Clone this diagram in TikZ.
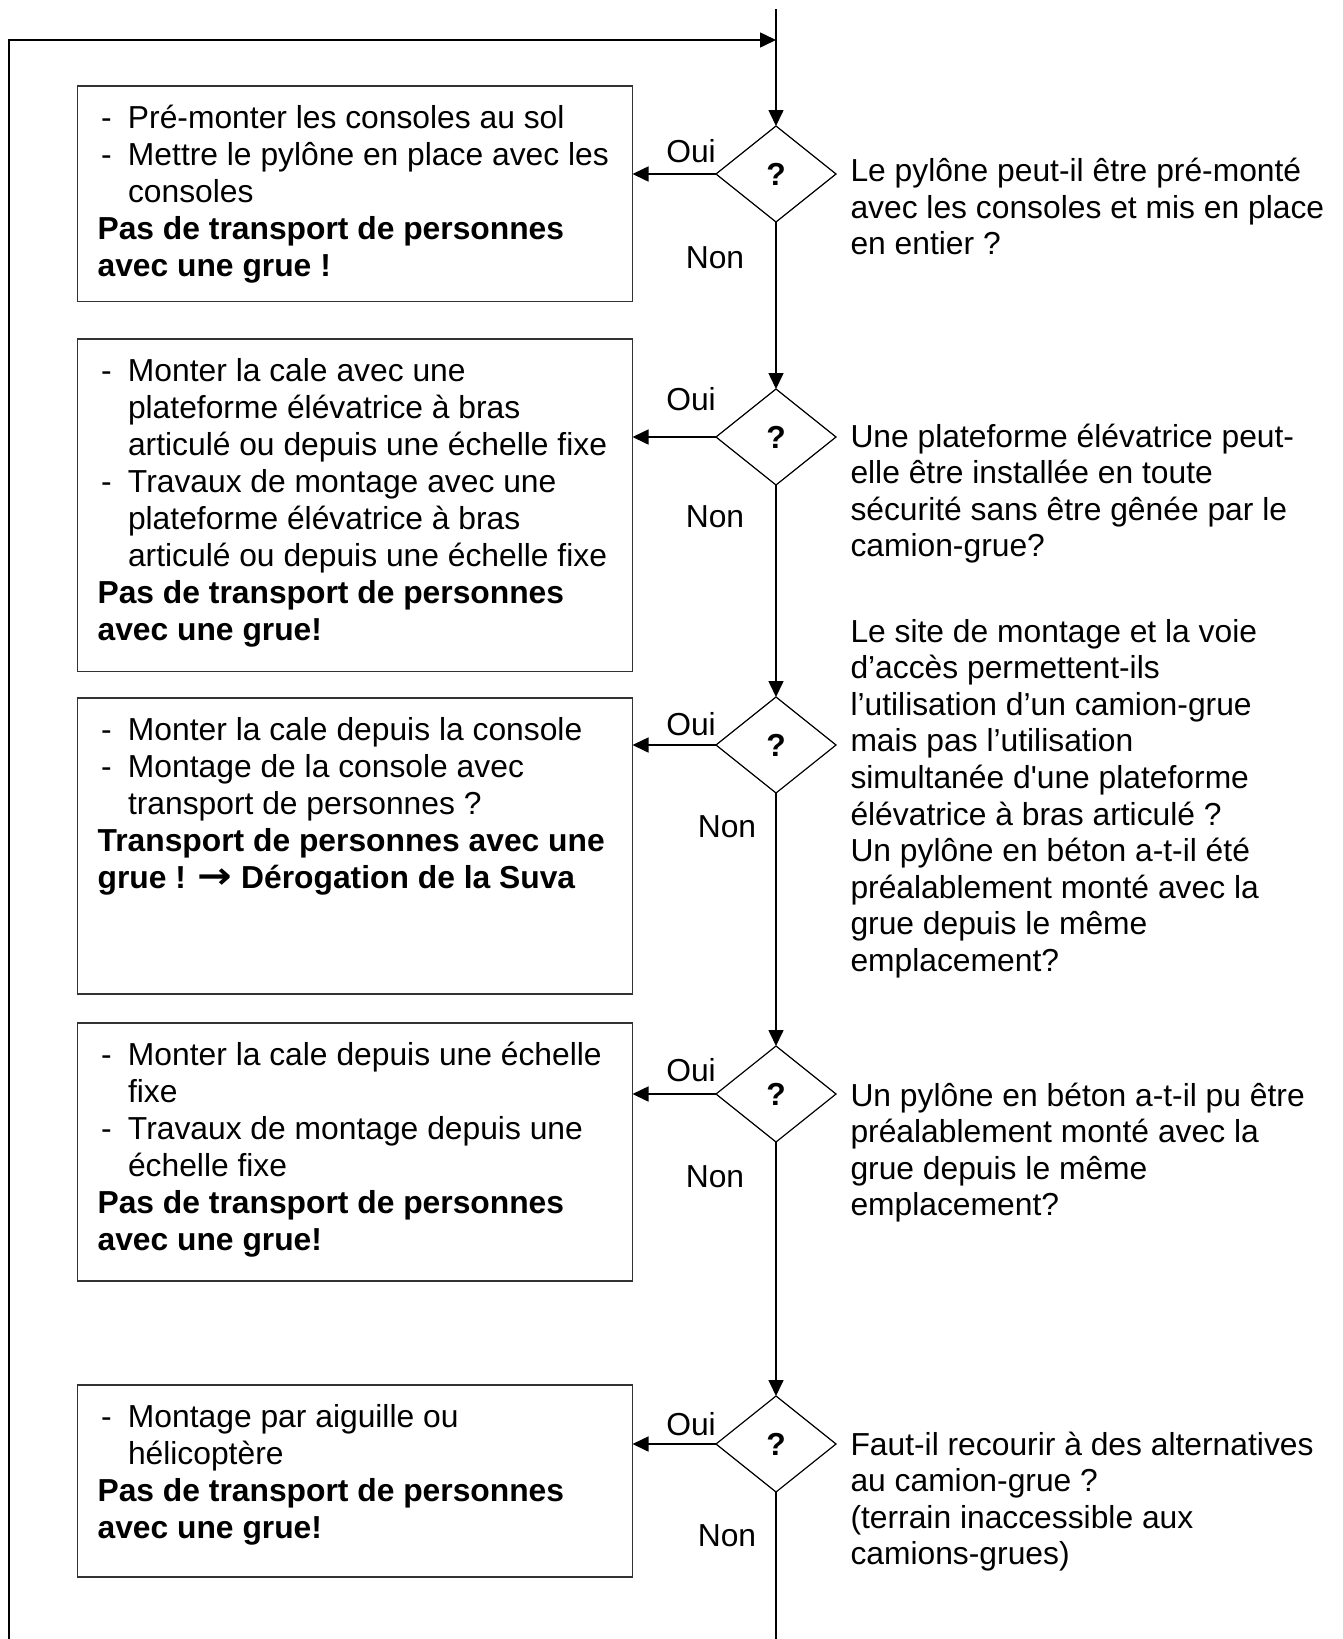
\documentclass[tikz,border=0pt]{standalone}
\usepackage{fontspec}
\setmainfont{Liberation Sans}
\newfontfamily\arial{Liberation Sans}
\newfontfamily\arrowfont{DejaVu Sans}
\usetikzlibrary{arrows.meta,shapes.geometric}
\newcommand\fbul[1]{\makebox[30.4pt][l]{\hspace*{3.4pt}-}#1}
\newcommand\fcont[1]{\hspace*{30.4pt}#1}
\begin{document}
\begin{tikzpicture}[x=1pt,y=-1pt,
  every node/.style={inner sep=0pt, outer sep=0pt},
  txt/.style={anchor=base west, font=\arial\fontsize{31.8pt}{37pt}\selectfont},
  qtxt/.style={anchor=base west, font=\arial\fontsize{31.8pt}{36.6pt}\selectfont},
  lbl/.style={anchor=base, font=\arial\fontsize{31.8pt}{37pt}\selectfont},
  panel/.style={draw=black!80, line width=1.1pt, anchor=north west, minimum width=555pt},
  decision/.style={diamond, draw, line width=1.2pt, minimum width=120pt, minimum height=96pt,
    font=\arial\bfseries\fontsize{31.8pt}{37pt}\selectfont},
  flow/.style={line width=1.6pt, -{Triangle[length=16pt,width=15pt]}},
  plainline/.style={line width=1.6pt}
]
\useasboundingbox (0,0) rectangle (1343,1639);
\fill[white] (0,0) rectangle (1343,1639);

% boxes
\node[panel, minimum height=215.5pt] (b1) at (77.5,86) {};
\node[panel, minimum height=332.5pt] (b2) at (77.5,339) {};
\node[panel, minimum height=296pt] (b3) at (77.5,698) {};
\node[panel, minimum height=258pt] (b4) at (77.5,1023) {};
\node[panel, minimum height=192pt] (b5) at (77.5,1385) {};

% diamonds
\node[decision] (d1) at (776,174) {?};
\node[decision] (d2) at (776,437) {?};
\node[decision] (d3) at (776,745) {?};
\node[decision] (d4) at (776,1094) {?};
\node[decision] (d5) at (776,1444) {?};

% box texts
\node[txt] (t1) at (97.6,128) {\parbox[t]{600pt}{%
\fbul{Pré-monter les consoles au sol}\\
\fbul{Mettre le pylône en place avec les}\\
\fcont{consoles}\\
\textbf{Pas de transport de personnes}\\
\textbf{avec une grue !}}};
\node[txt] (t2) at (97.6,381) {\parbox[t]{600pt}{%
\fbul{Monter la cale avec une}\\
\fcont{plateforme élévatrice à bras}\\
\fcont{articulé ou depuis une échelle fixe}\\
\fbul{Travaux de montage avec une}\\
\fcont{plateforme élévatrice à bras}\\
\fcont{articulé ou depuis une échelle fixe}\\
\textbf{Pas de transport de personnes}\\
\textbf{avec une grue!}}};
\node[txt] (t3) at (97.6,740) {\parbox[t]{600pt}{%
\fbul{Monter la cale depuis la console}\\
\fbul{Montage de la console avec}\\
\fcont{transport de personnes ?}\\
\textbf{Transport de personnes avec une}\\
\textbf{grue ! {\arrowfont\bfseries\scalebox{1.3}[1.15]{→}} Dérogation de la Suva}}};
\node[txt] (t4) at (97.6,1065) {\parbox[t]{600pt}{%
\fbul{Monter la cale depuis une échelle}\\
\fcont{fixe}\\
\fbul{Travaux de montage depuis une}\\
\fcont{échelle fixe}\\
\textbf{Pas de transport de personnes}\\
\textbf{avec une grue!}}};
\node[txt] (t5) at (97.6,1427) {\parbox[t]{600pt}{%
\fbul{Montage par aiguille ou}\\
\fcont{hélicoptère}\\
\textbf{Pas de transport de personnes}\\
\textbf{avec une grue!}}};

% question texts
\node[qtxt] (q1) at (850.5,181.5) {\parbox[t]{490pt}{%
Le pylône peut-il être pré-monté\\
avec les consoles et mis en place\\
en entier ?}};
\node[qtxt] (q2) at (850.5,447) {\parbox[t]{490pt}{%
Une plateforme élévatrice peut-\\
elle être installée en toute\\
sécurité sans être gênée par le\\
camion-grue?}};
\node[qtxt] (q3) at (850.5,642) {\parbox[t]{490pt}{%
Le site de montage et la voie\\
d’accès permettent-ils\\
l’utilisation d’un camion-grue\\
mais pas l’utilisation\\
simultanée d'une plateforme\\
élévatrice à bras articulé ?\\
Un pylône en béton a-t-il été\\
préalablement monté avec la\\
grue depuis le même\\
emplacement?}};
\node[qtxt] (q4) at (850.5,1106) {\parbox[t]{490pt}{%
Un pylône en béton a-t-il pu être\\
préalablement monté avec la\\
grue depuis le même\\
emplacement?}};
\node[qtxt] (q5) at (850.5,1455) {\parbox[t]{490pt}{%
Faut-il recourir à des alternatives\\
au camion-grue ?\\
(terrain inaccessible aux\\
camions-grues)}};

% labels
\node[lbl] (o1) at (691,162) {Oui};
\node[lbl] (o2) at (691,410.5) {Oui};
\node[lbl] (o3) at (691,735) {Oui};
\node[lbl] (o4) at (691,1081) {Oui};
\node[lbl] (o5) at (691,1435) {Oui};
\node[lbl] (n1) at (715,268) {Non};
\node[lbl] (n2) at (715,527) {Non};
\node[lbl] (n3) at (727,837) {Non};
\node[lbl] (n4) at (715,1187) {Non};
\node[lbl] (n5) at (727,1546) {Non};

% connectors
\coordinate (st) at (776,9);
\coordinate (en) at (776,1639);
\coordinate (lb) at (9,1639);
\coordinate (lt) at (9,40);
\coordinate (jn) at (776,40);
\draw[flow] (st) -- (d1.north);
\draw[flow] (d1.south) -- (d2.north);
\draw[flow] (d2.south) -- (d3.north);
\draw[flow] (d3.south) -- (d4.north);
\draw[flow] (d4.south) -- (d5.north);
\draw[plainline] (d5.south) -- (en);
\draw[flow] (lb) -- (lt) -- (jn);
\draw[flow] (d1.west) -- (d1.west -| b1.east);
\draw[flow] (d2.west) -- (d2.west -| b2.east);
\draw[flow] (d3.west) -- (d3.west -| b3.east);
\draw[flow] (d4.west) -- (d4.west -| b4.east);
\draw[flow] (d5.west) -- (d5.west -| b5.east);
\end{tikzpicture}
\end{document}
